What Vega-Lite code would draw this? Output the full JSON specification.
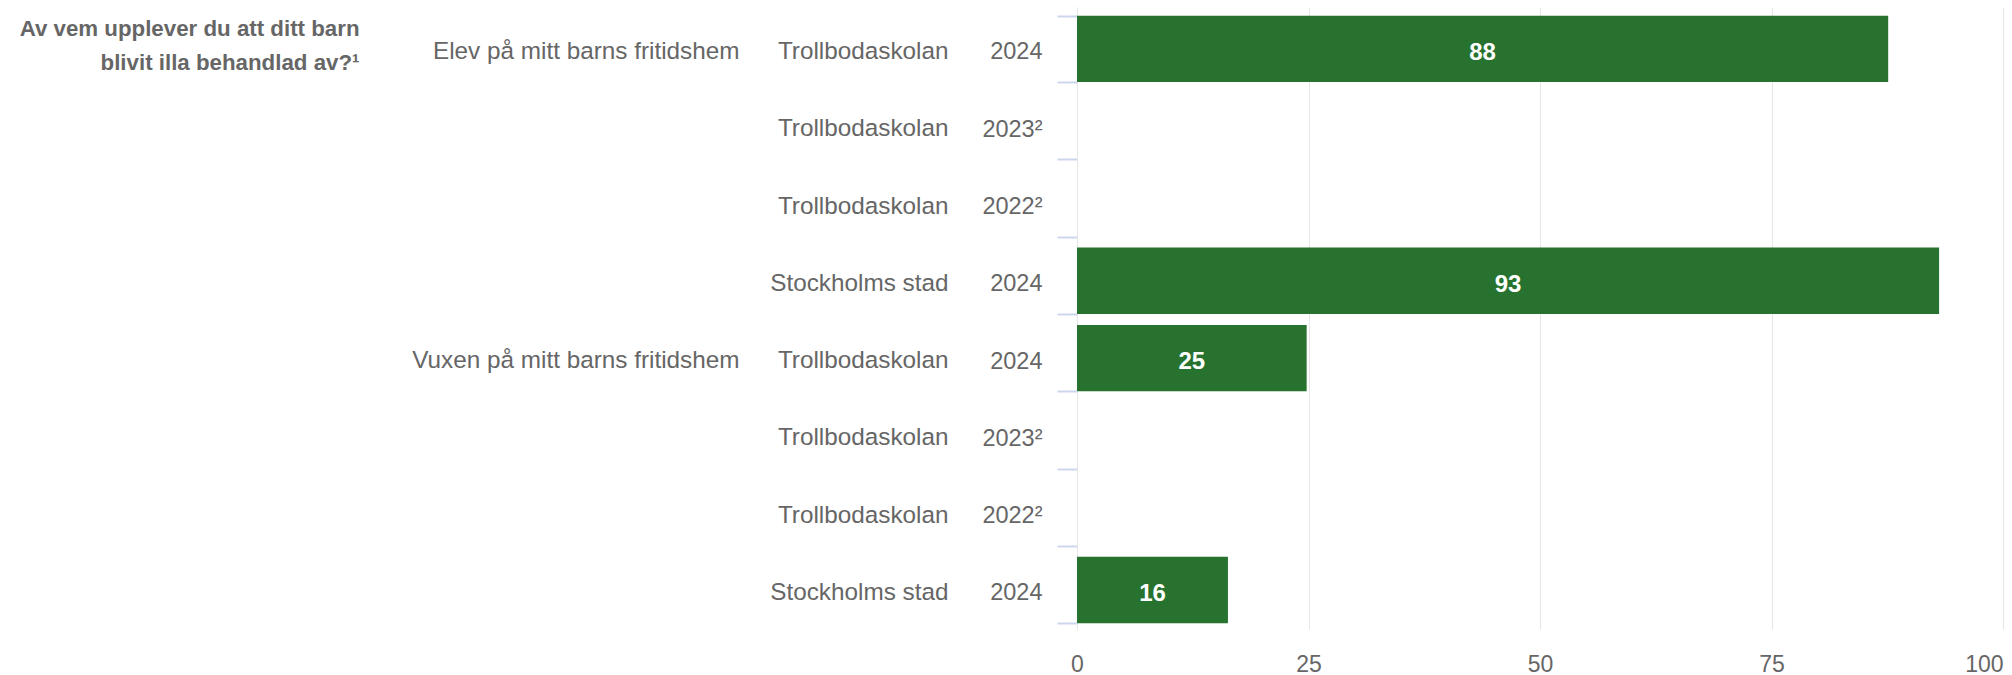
{
  "$schema": "https://vega.github.io/schema/vega-lite/v6.json",
  "width": 926,
  "height": 622,
  "autosize": {"type": "none"},
  "padding": {"left": 1077, "top": 7, "right": 9, "bottom": 46},
  "background": "white",
  "config": {
    "view": {"stroke": null},
    "font": "Liberation Sans",
    "axis": {"labelFont": "Liberation Sans", "titleFont": "Liberation Sans", "labelColor": "#666666", "labelLimit": 1000}
  },
  "data": {
    "values": [
      {"row": "Elev på mitt barns fritidshem|Trollbodaskolan|2024", "category": "Elev på mitt barns fritidshem", "school": "Trollbodaskolan", "year": "2024", "value": 87.6},
      {"row": "Elev på mitt barns fritidshem|Trollbodaskolan|2023²", "category": "Elev på mitt barns fritidshem", "school": "Trollbodaskolan", "year": "2023²", "value": null},
      {"row": "Elev på mitt barns fritidshem|Trollbodaskolan|2022²", "category": "Elev på mitt barns fritidshem", "school": "Trollbodaskolan", "year": "2022²", "value": null},
      {"row": "Elev på mitt barns fritidshem|Stockholms stad|2024", "category": "Elev på mitt barns fritidshem", "school": "Stockholms stad", "year": "2024", "value": 93.1},
      {"row": "Vuxen på mitt barns fritidshem|Trollbodaskolan|2024", "category": "Vuxen på mitt barns fritidshem", "school": "Trollbodaskolan", "year": "2024", "value": 24.8},
      {"row": "Vuxen på mitt barns fritidshem|Trollbodaskolan|2023²", "category": "Vuxen på mitt barns fritidshem", "school": "Trollbodaskolan", "year": "2023²", "value": null},
      {"row": "Vuxen på mitt barns fritidshem|Trollbodaskolan|2022²", "category": "Vuxen på mitt barns fritidshem", "school": "Trollbodaskolan", "year": "2022²", "value": null},
      {"row": "Vuxen på mitt barns fritidshem|Stockholms stad|2024", "category": "Vuxen på mitt barns fritidshem", "school": "Stockholms stad", "year": "2024", "value": 16.3}
    ]
  },
  "resolve": {"axis": {"y": "independent", "x": "independent"}},
  "layer": [
    {
      "transform": [{"filter": "datum.school == 'Trollbodaskolan'"}],
      "mark": {"type": "bar", "color": "#26722E"},
      "encoding": {
        "y": {
          "field": "row", "type": "nominal",
          "scale": {"domain": [
            "Elev på mitt barns fritidshem|Trollbodaskolan|2024",
            "Elev på mitt barns fritidshem|Trollbodaskolan|2023²",
            "Elev på mitt barns fritidshem|Trollbodaskolan|2022²",
            "Elev på mitt barns fritidshem|Stockholms stad|2024",
            "Vuxen på mitt barns fritidshem|Trollbodaskolan|2024",
            "Vuxen på mitt barns fritidshem|Trollbodaskolan|2023²",
            "Vuxen på mitt barns fritidshem|Trollbodaskolan|2022²",
            "Vuxen på mitt barns fritidshem|Stockholms stad|2024"
          ], "paddingInner": 0.141, "paddingOuter": 0.094, "align": 0.6},
          "axis": {
            "orient": "left",
            "labelExpr": "split(datum.label, '|')[2]",
            "tickBand": "extent",
            "ticks": true,
            "tickSize": 20,
            "tickColor": "#ccd6eb",
            "tickWidth": 2,
            "labelPadding": 15,
            "labelFontSize": 23.5,
            "labelOffset": 3,
            "domain": true,
            "domainColor": "#e6e6e6",
            "title": ["Av vem upplever du att ditt barn", "blivit illa behandlad av?¹"],
            "titleAngle": 0,
            "titleAlign": "right",
            "titleBaseline": "middle",
            "titleX": -718,
            "titleY": 21,
            "titleFontSize": 22.3,
            "titleFontWeight": "bold",
            "titleColor": "#666666",
            "titleLineHeight": 34
          }
        },
        "x": {
          "field": "value", "type": "quantitative",
          "scale": {"domain": [0, 100]},
          "axis": {
            "orient": "bottom",
            "values": [0, 25, 50, 75, 100],
            "title": null,
            "grid": true,
            "gridColor": "#e6e6e6",
            "gridWidth": 1,
            "domain": false,
            "ticks": false,
            "labelPadding": 24,
            "labelFontSize": 23,
            "labelColor": "#666666",
            "labelAlign": {"condition": {"test": "datum.value == 100", "value": "right"}, "value": "center"}
          }
        }
      }
    },
    {
      "transform": [{"filter": "datum.school == 'Stockholms stad'"}],
      "mark": {"type": "bar", "color": "#26722E"},
      "encoding": {
        "y": {
          "field": "row", "type": "nominal",
          "scale": {"domain": [
            "Elev på mitt barns fritidshem|Trollbodaskolan|2024",
            "Elev på mitt barns fritidshem|Trollbodaskolan|2023²",
            "Elev på mitt barns fritidshem|Trollbodaskolan|2022²",
            "Elev på mitt barns fritidshem|Stockholms stad|2024",
            "Vuxen på mitt barns fritidshem|Trollbodaskolan|2024",
            "Vuxen på mitt barns fritidshem|Trollbodaskolan|2023²",
            "Vuxen på mitt barns fritidshem|Trollbodaskolan|2022²",
            "Vuxen på mitt barns fritidshem|Stockholms stad|2024"
          ], "paddingInner": 0.141, "paddingOuter": 0.094, "align": 0.6},
          "axis": {
            "orient": "left",
            "labelExpr": "split(datum.label, '|')[1]",
            "ticks": false,
            "tickSize": 0,
            "domain": false,
            "labelPadding": 129,
            "labelFontSize": 24.3,
            "labelOffset": 3,
            "title": null
          }
        },
        "x": {"field": "value", "type": "quantitative", "scale": {"domain": [0, 100]}, "axis": null}
      }
    },
    {
      "transform": [{"filter": "datum.value != null"}, {"calculate": "datum.value / 2", "as": "mid"}],
      "mark": {"type": "text", "color": "white", "fontWeight": "bold", "fontSize": 24, "baseline": "middle", "align": "center", "dy": 4},
      "encoding": {
        "y": {
          "field": "row", "type": "nominal",
          "scale": {"domain": [
            "Elev på mitt barns fritidshem|Trollbodaskolan|2024",
            "Elev på mitt barns fritidshem|Trollbodaskolan|2023²",
            "Elev på mitt barns fritidshem|Trollbodaskolan|2022²",
            "Elev på mitt barns fritidshem|Stockholms stad|2024",
            "Vuxen på mitt barns fritidshem|Trollbodaskolan|2024",
            "Vuxen på mitt barns fritidshem|Trollbodaskolan|2023²",
            "Vuxen på mitt barns fritidshem|Trollbodaskolan|2022²",
            "Vuxen på mitt barns fritidshem|Stockholms stad|2024"
          ], "paddingInner": 0.141, "paddingOuter": 0.094, "align": 0.6},
          "axis": {
            "orient": "left",
            "labelExpr": "split(datum.label, '|')[1] == 'Trollbodaskolan' && split(datum.label, '|')[2] == '2024' ? split(datum.label, '|')[0] : ''",
            "ticks": false,
            "tickSize": 0,
            "domain": false,
            "labelPadding": 338,
            "labelFontSize": 24.3,
            "labelOffset": 3,
            "title": null
          }
        },
        "x": {"field": "mid", "type": "quantitative", "scale": {"domain": [0, 100]}, "axis": null},
        "text": {"field": "value", "type": "quantitative", "format": ".0f"}
      }
    }
  ]
}
